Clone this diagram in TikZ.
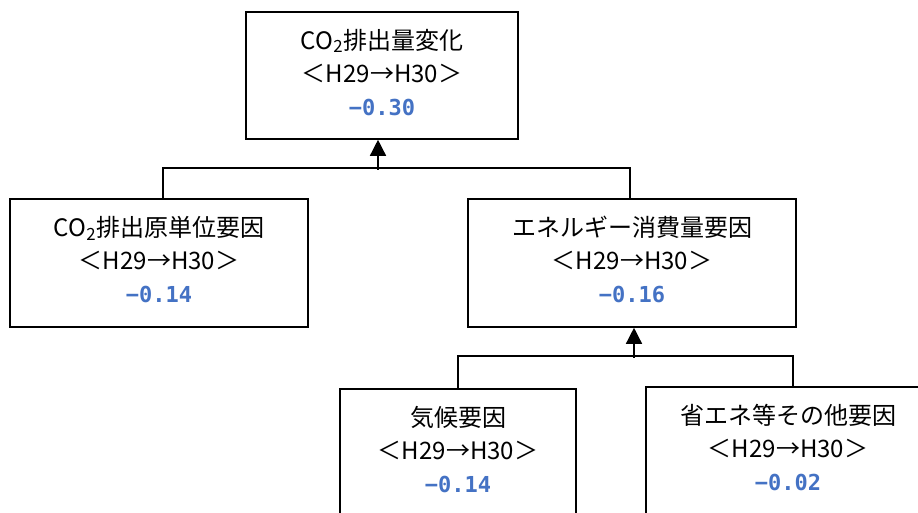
\documentclass[tikz,border=0pt]{standalone}
\usepackage{fontspec}
\setmainfont{Noto Sans CJK JP}
\newfontfamily\valfam{DejaVu Sans Mono}
\usetikzlibrary{arrows.meta}
\definecolor{numblue}{HTML}{4472C4}
\newcommand\val[1]{{\valfam\bfseries\fontsize{22}{33}\selectfont\color{numblue}#1}\rule[-7pt]{0pt}{0pt}}
\tikzset{
  box/.style={draw, line width=1.6pt, rectangle, align=center, inner sep=0pt,
    font=\fontsize{24}{33}\selectfont},
  conn/.style={line width=1.4pt},
  uparrow/.style={line width=1.4pt, -{Triangle[width=16pt,length=16pt]}}
}
\begin{document}
\begin{tikzpicture}[x=1pt,y=1pt]
\clip (0,0) rectangle (918,513);
\fill[white] (0,0) rectangle (918,513);
% boxes
\node[box, minimum width=272pt, minimum height=127pt] (top) at (382,437.5)
  {CO\textsubscript{2}排出量変化\\＜H29→H30＞\\\val{−0.30}};
\node[box, minimum width=298pt, minimum height=128pt] (cl) at (159,250)
  {CO\textsubscript{2}排出原単位要因\\＜H29→H30＞\\\val{−0.14}};
\node[box, minimum width=328pt, minimum height=128pt] (en) at (632,250)
  {エネルギー消費量要因\\＜H29→H30＞\\\val{−0.16}};
\node[box, minimum width=236pt, minimum height=128pt] (kk) at (458,60)
  {気候要因\\＜H29→H30＞\\\val{−0.14}};
\node[box, minimum width=284pt, minimum height=128pt] (sh) at (788,62)
  {省エネ等その他要因\\＜H29→H30＞\\\val{−0.02}};
% upper connector
\draw[conn] ([xshift=4pt]cl.north) -- ++(0,30) -| ([xshift=-2pt]en.north);
\path ([xshift=-4pt]top.south) ++(0,-30) coordinate (j1);
\draw[uparrow] (j1) -- ([xshift=-4pt]top.south);
% lower connector
\draw[conn] (kk.north) -- ++(0,32) -| ([xshift=5pt]sh.north);
\path ([xshift=2pt]en.south) ++(0,-30) coordinate (j2);
\draw[uparrow] (j2) -- ([xshift=2pt]en.south);
\end{tikzpicture}
\end{document}
